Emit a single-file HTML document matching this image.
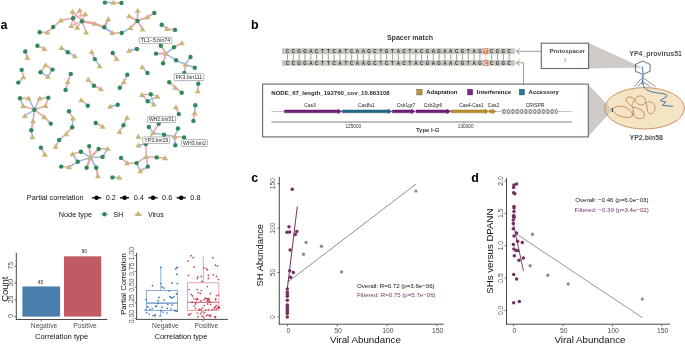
<!DOCTYPE html>
<html><head><meta charset="utf-8"><style>
html,body{margin:0;padding:0;background:#fff;}
svg{display:block;font-family:"Liberation Sans", sans-serif;filter:blur(0.3px);}
</style></head><body>
<svg width="685" height="345" viewBox="0 0 685 345">
<rect width="685" height="345" fill="#fff"/>
<text x="0.4" y="28.8" font-size="12.4" font-weight="bold" fill="#000">a</text>
<text x="251.1" y="28.8" font-size="12.4" font-weight="bold" fill="#000">b</text>
<text x="251.2" y="181.8" font-size="12.4" font-weight="bold" fill="#000">c</text>
<text x="471.2" y="181.8" font-size="12.4" font-weight="bold" fill="#000">d</text>
<g><line x1="39.7" y1="32.3" x2="47.3" y2="32.2" stroke="#e5a7a8" stroke-width="1.55"/>
<line x1="47.3" y1="32.2" x2="53.2" y2="27" stroke="#e5a7a8" stroke-width="1.55"/>
<line x1="53.2" y1="27" x2="60.9" y2="20.3" stroke="#e5a7a8" stroke-width="1.55"/>
<line x1="37.4" y1="45.7" x2="44.3" y2="48.7" stroke="#e5a7a8" stroke-width="1.55"/>
<line x1="25.2" y1="51.5" x2="27.5" y2="57.4" stroke="#e5a7a8" stroke-width="1.55"/>
<line x1="73" y1="18.3" x2="72.5" y2="11.6" stroke="#e5a7a8" stroke-width="1.2"/>
<line x1="82" y1="21.2" x2="72.5" y2="11.6" stroke="#e5a7a8" stroke-width="1.2"/>
<line x1="73" y1="18.3" x2="79.7" y2="10.2" stroke="#e5a7a8" stroke-width="1.2"/>
<line x1="82" y1="21.2" x2="79.7" y2="10.2" stroke="#e5a7a8" stroke-width="1.2"/>
<line x1="73" y1="18.3" x2="85.3" y2="13.9" stroke="#e5a7a8" stroke-width="1.2"/>
<line x1="82" y1="21.2" x2="85.3" y2="13.9" stroke="#e5a7a8" stroke-width="1.2"/>
<line x1="73" y1="18.3" x2="71.2" y2="25.7" stroke="#e5a7a8" stroke-width="1.2"/>
<line x1="82" y1="21.2" x2="71.2" y2="25.7" stroke="#e5a7a8" stroke-width="1.2"/>
<line x1="73" y1="18.3" x2="77.2" y2="27.5" stroke="#e5a7a8" stroke-width="1.2"/>
<line x1="82" y1="21.2" x2="77.2" y2="27.5" stroke="#e5a7a8" stroke-width="1.2"/>
<line x1="60.9" y1="20.3" x2="73" y2="18.3" stroke="#e5a7a8" stroke-width="1.6"/>
<line x1="82" y1="21.2" x2="86.1" y2="32.2" stroke="#e5a7a8" stroke-width="1.55"/>
<line x1="82" y1="21.2" x2="94.6" y2="23.5" stroke="#e5a7a8" stroke-width="2.4"/>
<line x1="94.6" y1="23.5" x2="104.3" y2="27.3" stroke="#e5a7a8" stroke-width="2.4"/>
<line x1="104.3" y1="27.3" x2="108.3" y2="19.1" stroke="#e5a7a8" stroke-width="2.2"/>
<line x1="104.3" y1="27.3" x2="112.2" y2="32.7" stroke="#a3b8de" stroke-width="2"/>
<line x1="112.2" y1="32.7" x2="121.7" y2="33" stroke="#e5a7a8" stroke-width="1.55"/>
<line x1="104.9" y1="2.6" x2="113.4" y2="2.6" stroke="#a3b8de" stroke-width="1.55"/>
<line x1="113.4" y1="2.6" x2="121.4" y2="3" stroke="#e5a7a8" stroke-width="1.55"/>
<line x1="137.4" y1="20.9" x2="137.7" y2="10.4" stroke="#e5a7a8" stroke-width="1.8"/>
<line x1="137.4" y1="20.9" x2="129" y2="16" stroke="#e5a7a8" stroke-width="1.8"/>
<line x1="137.4" y1="20.9" x2="147.5" y2="17" stroke="#e5a7a8" stroke-width="1.8"/>
<line x1="137.4" y1="20.9" x2="130.4" y2="27.8" stroke="#e5a7a8" stroke-width="1.8"/>
<line x1="137.4" y1="20.9" x2="142.6" y2="29.2" stroke="#e5a7a8" stroke-width="1.8"/>
<line x1="147.5" y1="17" x2="154.3" y2="13" stroke="#e5a7a8" stroke-width="1.8"/>
<line x1="121.7" y1="33" x2="130.4" y2="27.8" stroke="#a3b8de" stroke-width="1.55"/>
<line x1="161.7" y1="24.7" x2="167" y2="28.7" stroke="#a3b8de" stroke-width="1.55"/>
<line x1="167" y1="28.7" x2="175" y2="29.9" stroke="#e5a7a8" stroke-width="1.55"/>
<line x1="61.4" y1="47.8" x2="67.8" y2="52.2" stroke="#a3b8de" stroke-width="1.55"/>
<line x1="67.8" y1="52.2" x2="74.8" y2="56" stroke="#a3b8de" stroke-width="1.55"/>
<line x1="91.7" y1="51.7" x2="94.8" y2="59.1" stroke="#e5a7a8" stroke-width="1.55"/>
<line x1="94.8" y1="59.1" x2="99.7" y2="66.1" stroke="#a3b8de" stroke-width="1.55"/>
<line x1="112.7" y1="53" x2="116.5" y2="58.8" stroke="#e5a7a8" stroke-width="1.55"/>
<line x1="129" y1="50.4" x2="136.9" y2="49" stroke="#a3b8de" stroke-width="2"/>
<line x1="166" y1="53.6" x2="160.8" y2="45.7" stroke="#e5a7a8" stroke-width="1.8"/>
<line x1="166" y1="53.6" x2="156" y2="53.6" stroke="#e5a7a8" stroke-width="2"/>
<line x1="166" y1="53.6" x2="163.1" y2="63.2" stroke="#e5a7a8" stroke-width="1.8"/>
<line x1="166" y1="53.6" x2="174" y2="47.2" stroke="#a3b8de" stroke-width="1.6"/>
<line x1="166" y1="53.6" x2="176.1" y2="60.3" stroke="#a3b8de" stroke-width="1.6"/>
<line x1="174" y1="47.2" x2="181.9" y2="42.9" stroke="#e5a7a8" stroke-width="1.55"/>
<line x1="176.1" y1="60.3" x2="185.5" y2="64.5" stroke="#a3b8de" stroke-width="1.8"/>
<line x1="185.5" y1="64.5" x2="190.5" y2="57" stroke="#a3b8de" stroke-width="1.55"/>
<line x1="185.5" y1="64.5" x2="184.3" y2="73" stroke="#e5a7a8" stroke-width="1.55"/>
<line x1="185.5" y1="64.5" x2="194.8" y2="67.8" stroke="#a3b8de" stroke-width="1.55"/>
<line x1="21.7" y1="69.9" x2="23.5" y2="76.9" stroke="#e5a7a8" stroke-width="1.55"/>
<line x1="23.5" y1="76.9" x2="18.3" y2="82.6" stroke="#a3b8de" stroke-width="1.55"/>
<line x1="45.6" y1="64.9" x2="40.5" y2="72.2" stroke="#e5a7a8" stroke-width="1.55"/>
<line x1="45.6" y1="64.9" x2="52.5" y2="69.6" stroke="#e5a7a8" stroke-width="1.55"/>
<line x1="40.5" y1="72.2" x2="47.8" y2="76.5" stroke="#a3b8de" stroke-width="1.55"/>
<line x1="52.5" y1="69.6" x2="47.8" y2="76.5" stroke="#a3b8de" stroke-width="1.55"/>
<line x1="34.4" y1="109.8" x2="28.7" y2="98.3" stroke="#a3b8de" stroke-width="1.55"/>
<line x1="28.7" y1="98.3" x2="20" y2="98.3" stroke="#e5a7a8" stroke-width="1.55"/>
<line x1="20" y1="98.3" x2="23.1" y2="106" stroke="#a3b8de" stroke-width="1.55"/>
<line x1="23.1" y1="106" x2="34.4" y2="109.8" stroke="#e5a7a8" stroke-width="1.55"/>
<line x1="34.4" y1="109.8" x2="39.7" y2="98.3" stroke="#e5a7a8" stroke-width="1.55"/>
<line x1="39.7" y1="98.3" x2="48.3" y2="97.8" stroke="#e5a7a8" stroke-width="1.55"/>
<line x1="48.3" y1="97.8" x2="45.6" y2="105.7" stroke="#e5a7a8" stroke-width="1.55"/>
<line x1="45.6" y1="105.7" x2="34.4" y2="109.8" stroke="#e5a7a8" stroke-width="1.55"/>
<line x1="34.4" y1="109.8" x2="24.9" y2="115.7" stroke="#a3b8de" stroke-width="1.55"/>
<line x1="34.4" y1="109.8" x2="44.3" y2="117" stroke="#e5a7a8" stroke-width="1.55"/>
<line x1="44.3" y1="117" x2="50.8" y2="123.6" stroke="#e5a7a8" stroke-width="1.55"/>
<line x1="34.4" y1="109.8" x2="33" y2="121" stroke="#a3b8de" stroke-width="1.55"/>
<line x1="33" y1="121" x2="31.3" y2="130.2" stroke="#e5a7a8" stroke-width="2"/>
<line x1="31.3" y1="130.2" x2="32.5" y2="137" stroke="#a3b8de" stroke-width="1.55"/>
<line x1="70.8" y1="73.9" x2="67.8" y2="81.7" stroke="#e5a7a8" stroke-width="1.55"/>
<line x1="67.8" y1="81.7" x2="65.6" y2="89.9" stroke="#e5a7a8" stroke-width="1.55"/>
<line x1="88.2" y1="79.5" x2="93.9" y2="85.7" stroke="#e5a7a8" stroke-width="1.55"/>
<line x1="93.9" y1="85.7" x2="100.9" y2="89" stroke="#e5a7a8" stroke-width="1.55"/>
<line x1="81.2" y1="100" x2="87.8" y2="105.7" stroke="#e5a7a8" stroke-width="1.55"/>
<line x1="119.8" y1="87.8" x2="123.8" y2="81.7" stroke="#e5a7a8" stroke-width="1.55"/>
<line x1="123.8" y1="81.7" x2="127.3" y2="74.8" stroke="#e5a7a8" stroke-width="1.55"/>
<line x1="117.7" y1="104.7" x2="110.1" y2="106.6" stroke="#a3b8de" stroke-width="2"/>
<line x1="69" y1="111.3" x2="73" y2="118.3" stroke="#e5a7a8" stroke-width="1.55"/>
<line x1="73" y1="118.3" x2="72.2" y2="127.3" stroke="#a3b8de" stroke-width="1.55"/>
<line x1="72.2" y1="127.3" x2="66.1" y2="133.9" stroke="#e5a7a8" stroke-width="1.55"/>
<line x1="66.1" y1="133.9" x2="59.2" y2="140" stroke="#e5a7a8" stroke-width="1.55"/>
<line x1="59.2" y1="140" x2="55.7" y2="146.4" stroke="#e5a7a8" stroke-width="1.55"/>
<line x1="40.9" y1="147.8" x2="44.9" y2="154.4" stroke="#e5a7a8" stroke-width="1.55"/>
<line x1="95.7" y1="123" x2="102.6" y2="126.6" stroke="#e5a7a8" stroke-width="1.55"/>
<line x1="127" y1="117.4" x2="123.5" y2="125.2" stroke="#e5a7a8" stroke-width="1.55"/>
<line x1="123.5" y1="125.2" x2="119.5" y2="131.8" stroke="#e5a7a8" stroke-width="1.55"/>
<line x1="90.4" y1="157.4" x2="89.2" y2="146.1" stroke="#e5a7a8" stroke-width="1.8"/>
<line x1="90.4" y1="157.4" x2="80.9" y2="151.7" stroke="#a3b8de" stroke-width="1.55"/>
<line x1="90.4" y1="157.4" x2="98.6" y2="149" stroke="#e5a7a8" stroke-width="2.2"/>
<line x1="90.4" y1="157.4" x2="102.6" y2="156.9" stroke="#a3b8de" stroke-width="1.55"/>
<line x1="90.4" y1="157.4" x2="77.7" y2="161.7" stroke="#a3b8de" stroke-width="1.55"/>
<line x1="90.4" y1="157.4" x2="86.6" y2="167.8" stroke="#e5a7a8" stroke-width="2.2"/>
<line x1="90.4" y1="157.4" x2="96.2" y2="167.8" stroke="#a3b8de" stroke-width="1.8"/>
<line x1="80.9" y1="151.7" x2="72.5" y2="153.9" stroke="#e5a7a8" stroke-width="1.55"/>
<line x1="72.5" y1="153.9" x2="77.7" y2="161.7" stroke="#a3b8de" stroke-width="1.55"/>
<line x1="98.6" y1="149" x2="107.8" y2="148.7" stroke="#e5a7a8" stroke-width="1.55"/>
<line x1="107.8" y1="148.7" x2="102.6" y2="156.9" stroke="#a3b8de" stroke-width="1.55"/>
<line x1="77.7" y1="161.7" x2="69" y2="167" stroke="#a3b8de" stroke-width="1.55"/>
<line x1="69" y1="167" x2="61.2" y2="166.6" stroke="#e5a7a8" stroke-width="1.55"/>
<line x1="96.2" y1="167.8" x2="97.9" y2="176" stroke="#e5a7a8" stroke-width="2"/>
<line x1="112.4" y1="177.4" x2="119.4" y2="177.4" stroke="#a3b8de" stroke-width="1.55"/>
<line x1="146.2" y1="156.7" x2="145.9" y2="144" stroke="#e5a7a8" stroke-width="1.55"/>
<line x1="146.2" y1="156.7" x2="156.8" y2="157.4" stroke="#e5a7a8" stroke-width="1.55"/>
<line x1="146.2" y1="156.7" x2="136.6" y2="163.1" stroke="#e5a7a8" stroke-width="1.55"/>
<line x1="146.2" y1="156.7" x2="147.9" y2="166.6" stroke="#e5a7a8" stroke-width="1.55"/>
<line x1="156.8" y1="157.4" x2="165.1" y2="157.9" stroke="#e5a7a8" stroke-width="1.55"/>
<line x1="136.6" y1="163.1" x2="127.1" y2="163.1" stroke="#e5a7a8" stroke-width="1.55"/>
<line x1="127.1" y1="163.1" x2="121" y2="157.9" stroke="#e5a7a8" stroke-width="1.55"/>
<line x1="136.6" y1="163.1" x2="140.2" y2="171" stroke="#a3b8de" stroke-width="1.55"/>
<line x1="147.9" y1="166.6" x2="140.2" y2="171" stroke="#e5a7a8" stroke-width="2"/>
<line x1="138.5" y1="145.3" x2="145.9" y2="144" stroke="#a3b8de" stroke-width="1.55"/>
<line x1="153.1" y1="132.8" x2="158.7" y2="123.8" stroke="#e5a7a8" stroke-width="1.55"/>
<line x1="153.1" y1="132.8" x2="148.8" y2="126.9" stroke="#a3b8de" stroke-width="1.55"/>
<line x1="153.1" y1="132.8" x2="164" y2="134.8" stroke="#a3b8de" stroke-width="1.55"/>
<line x1="153.1" y1="132.8" x2="145.9" y2="144" stroke="#e5a7a8" stroke-width="1.55"/>
<line x1="164" y1="134.8" x2="174.7" y2="136.6" stroke="#a3b8de" stroke-width="1.55"/>
<line x1="174.7" y1="136.6" x2="178" y2="128.5" stroke="#a3b8de" stroke-width="1.55"/>
<line x1="174.7" y1="136.6" x2="184.1" y2="137.4" stroke="#e5a7a8" stroke-width="1.55"/>
<line x1="174.7" y1="136.6" x2="175.3" y2="145.3" stroke="#a3b8de" stroke-width="1.55"/>
<line x1="178.8" y1="114.1" x2="176" y2="107" stroke="#e5a7a8" stroke-width="1.55"/>
<line x1="195.3" y1="105.2" x2="194.6" y2="112.9" stroke="#a3b8de" stroke-width="1.55"/>
<line x1="194.6" y1="112.9" x2="193.4" y2="120.9" stroke="#e5a7a8" stroke-width="1.55"/>
<line x1="198.3" y1="83.8" x2="197.7" y2="91" stroke="#e5a7a8" stroke-width="1.55"/>
<line x1="169.2" y1="82.3" x2="175.3" y2="87.5" stroke="#e5a7a8" stroke-width="1.55"/>
<line x1="175.3" y1="87.5" x2="181.7" y2="92.7" stroke="#e5a7a8" stroke-width="1.55"/>
<line x1="142.3" y1="67" x2="147.5" y2="73" stroke="#a3b8de" stroke-width="1.55"/>
<line x1="141.9" y1="94.8" x2="150.8" y2="94.3" stroke="#e5a7a8" stroke-width="1.55"/>
<line x1="141.9" y1="94.8" x2="147.7" y2="101.3" stroke="#e5a7a8" stroke-width="1.55"/>
<line x1="150.8" y1="94.3" x2="157.5" y2="96.4" stroke="#a3b8de" stroke-width="1.2"/>
<line x1="150.8" y1="94.3" x2="153.8" y2="104.2" stroke="#a3b8de" stroke-width="1.2"/>
<line x1="147.7" y1="101.3" x2="157.5" y2="96.4" stroke="#a3b8de" stroke-width="1.2"/>
<line x1="147.7" y1="101.3" x2="153.8" y2="104.2" stroke="#a3b8de" stroke-width="1.2"/>
<circle cx="39.7" cy="32.3" r="2.2" fill="#2f8a5a"/>
<polygon points="44.30,34.45 50.30,34.45 47.30,29.45" fill="#c9b577"/>
<circle cx="53.2" cy="27" r="2.2" fill="#2f8a5a"/>
<polygon points="57.90,22.55 63.90,22.55 60.90,17.55" fill="#c9b577"/>
<circle cx="37.4" cy="45.7" r="2.2" fill="#2f8a5a"/>
<polygon points="41.30,50.95 47.30,50.95 44.30,45.95" fill="#c9b577"/>
<circle cx="25.2" cy="51.5" r="2.2" fill="#2f8a5a"/>
<polygon points="24.50,59.65 30.50,59.65 27.50,54.65" fill="#c9b577"/>
<circle cx="73" cy="18.3" r="2.2" fill="#2f8a5a"/>
<circle cx="82" cy="21.2" r="2.2" fill="#2f8a5a"/>
<polygon points="69.50,13.85 75.50,13.85 72.50,8.85" fill="#c9b577"/>
<polygon points="76.70,12.45 82.70,12.45 79.70,7.45" fill="#c9b577"/>
<polygon points="82.30,16.15 88.30,16.15 85.30,11.15" fill="#c9b577"/>
<polygon points="68.20,27.95 74.20,27.95 71.20,22.95" fill="#c9b577"/>
<polygon points="74.20,29.75 80.20,29.75 77.20,24.75" fill="#c9b577"/>
<polygon points="83.10,34.45 89.10,34.45 86.10,29.45" fill="#c9b577"/>
<polygon points="91.60,25.75 97.60,25.75 94.60,20.75" fill="#c9b577"/>
<circle cx="104.3" cy="27.3" r="2.2" fill="#2f8a5a"/>
<polygon points="105.30,21.35 111.30,21.35 108.30,16.35" fill="#c9b577"/>
<polygon points="109.20,34.95 115.20,34.95 112.20,29.95" fill="#c9b577"/>
<circle cx="121.7" cy="33" r="2.2" fill="#2f8a5a"/>
<circle cx="104.9" cy="2.6" r="2.2" fill="#2f8a5a"/>
<polygon points="110.40,4.85 116.40,4.85 113.40,-0.15" fill="#c9b577"/>
<circle cx="121.4" cy="3" r="2.2" fill="#2f8a5a"/>
<circle cx="137.4" cy="20.9" r="2.2" fill="#2f8a5a"/>
<polygon points="134.70,12.65 140.70,12.65 137.70,7.65" fill="#c9b577"/>
<polygon points="126.00,18.25 132.00,18.25 129.00,13.25" fill="#c9b577"/>
<polygon points="144.50,19.25 150.50,19.25 147.50,14.25" fill="#c9b577"/>
<polygon points="127.40,30.05 133.40,30.05 130.40,25.05" fill="#c9b577"/>
<polygon points="139.60,31.45 145.60,31.45 142.60,26.45" fill="#c9b577"/>
<circle cx="154.3" cy="13" r="2.2" fill="#2f8a5a"/>
<circle cx="161.7" cy="24.7" r="2.2" fill="#2f8a5a"/>
<polygon points="164.00,30.95 170.00,30.95 167.00,25.95" fill="#c9b577"/>
<circle cx="175" cy="29.9" r="2.2" fill="#2f8a5a"/>
<polygon points="58.40,50.05 64.40,50.05 61.40,45.05" fill="#c9b577"/>
<circle cx="67.8" cy="52.2" r="2.2" fill="#2f8a5a"/>
<polygon points="71.80,58.25 77.80,58.25 74.80,53.25" fill="#c9b577"/>
<polygon points="88.70,53.95 94.70,53.95 91.70,48.95" fill="#c9b577"/>
<circle cx="94.8" cy="59.1" r="2.2" fill="#2f8a5a"/>
<polygon points="96.70,68.35 102.70,68.35 99.70,63.35" fill="#c9b577"/>
<circle cx="112.7" cy="53" r="2.2" fill="#2f8a5a"/>
<polygon points="113.50,61.05 119.50,61.05 116.50,56.05" fill="#c9b577"/>
<polygon points="126.00,52.65 132.00,52.65 129.00,47.65" fill="#c9b577"/>
<circle cx="136.9" cy="49" r="2.2" fill="#2f8a5a"/>
<polygon points="163.00,55.85 169.00,55.85 166.00,50.85" fill="#c9b577"/>
<circle cx="160.8" cy="45.7" r="2.2" fill="#2f8a5a"/>
<circle cx="156" cy="53.6" r="2.2" fill="#2f8a5a"/>
<circle cx="163.1" cy="63.2" r="2.2" fill="#2f8a5a"/>
<circle cx="174" cy="47.2" r="2.2" fill="#2f8a5a"/>
<circle cx="176.1" cy="60.3" r="2.2" fill="#2f8a5a"/>
<polygon points="178.90,45.15 184.90,45.15 181.90,40.15" fill="#c9b577"/>
<polygon points="182.50,66.75 188.50,66.75 185.50,61.75" fill="#c9b577"/>
<circle cx="190.5" cy="57" r="2.2" fill="#2f8a5a"/>
<circle cx="184.3" cy="73" r="2.2" fill="#2f8a5a"/>
<circle cx="194.8" cy="67.8" r="2.2" fill="#2f8a5a"/>
<circle cx="21.7" cy="69.9" r="2.2" fill="#2f8a5a"/>
<polygon points="20.50,79.15 26.50,79.15 23.50,74.15" fill="#c9b577"/>
<circle cx="18.3" cy="82.6" r="2.2" fill="#2f8a5a"/>
<polygon points="42.60,67.15 48.60,67.15 45.60,62.15" fill="#c9b577"/>
<circle cx="40.5" cy="72.2" r="2.2" fill="#2f8a5a"/>
<circle cx="52.5" cy="69.6" r="2.2" fill="#2f8a5a"/>
<polygon points="44.80,78.75 50.80,78.75 47.80,73.75" fill="#c9b577"/>
<circle cx="34.4" cy="109.8" r="2.2" fill="#2f8a5a"/>
<circle cx="20" cy="98.3" r="2.2" fill="#2f8a5a"/>
<polygon points="25.70,100.55 31.70,100.55 28.70,95.55" fill="#c9b577"/>
<polygon points="36.70,100.55 42.70,100.55 39.70,95.55" fill="#c9b577"/>
<circle cx="48.3" cy="97.8" r="2.2" fill="#2f8a5a"/>
<polygon points="20.10,108.25 26.10,108.25 23.10,103.25" fill="#c9b577"/>
<polygon points="42.60,107.95 48.60,107.95 45.60,102.95" fill="#c9b577"/>
<polygon points="21.90,117.95 27.90,117.95 24.90,112.95" fill="#c9b577"/>
<polygon points="41.30,119.25 47.30,119.25 44.30,114.25" fill="#c9b577"/>
<polygon points="30.00,123.25 36.00,123.25 33.00,118.25" fill="#c9b577"/>
<circle cx="50.8" cy="123.6" r="2.2" fill="#2f8a5a"/>
<circle cx="31.3" cy="130.2" r="2.2" fill="#2f8a5a"/>
<polygon points="29.50,139.25 35.50,139.25 32.50,134.25" fill="#c9b577"/>
<circle cx="70.8" cy="73.9" r="2.2" fill="#2f8a5a"/>
<polygon points="64.80,83.95 70.80,83.95 67.80,78.95" fill="#c9b577"/>
<circle cx="65.6" cy="89.9" r="2.2" fill="#2f8a5a"/>
<polygon points="85.20,81.75 91.20,81.75 88.20,76.75" fill="#c9b577"/>
<circle cx="93.9" cy="85.7" r="2.2" fill="#2f8a5a"/>
<polygon points="97.90,91.25 103.90,91.25 100.90,86.25" fill="#c9b577"/>
<polygon points="78.20,102.25 84.20,102.25 81.20,97.25" fill="#c9b577"/>
<circle cx="87.8" cy="105.7" r="2.2" fill="#2f8a5a"/>
<circle cx="119.8" cy="87.8" r="2.2" fill="#2f8a5a"/>
<polygon points="120.80,83.95 126.80,83.95 123.80,78.95" fill="#c9b577"/>
<circle cx="127.3" cy="74.8" r="2.2" fill="#2f8a5a"/>
<circle cx="117.7" cy="104.7" r="2.2" fill="#2f8a5a"/>
<polygon points="107.10,108.85 113.10,108.85 110.10,103.85" fill="#c9b577"/>
<circle cx="69" cy="111.3" r="2.2" fill="#2f8a5a"/>
<polygon points="70.00,120.55 76.00,120.55 73.00,115.55" fill="#c9b577"/>
<circle cx="72.2" cy="127.3" r="2.2" fill="#2f8a5a"/>
<polygon points="63.10,136.15 69.10,136.15 66.10,131.15" fill="#c9b577"/>
<circle cx="59.2" cy="140" r="2.2" fill="#2f8a5a"/>
<polygon points="52.70,148.65 58.70,148.65 55.70,143.65" fill="#c9b577"/>
<circle cx="40.9" cy="147.8" r="2.2" fill="#2f8a5a"/>
<polygon points="41.90,156.65 47.90,156.65 44.90,151.65" fill="#c9b577"/>
<circle cx="95.7" cy="123" r="2.2" fill="#2f8a5a"/>
<polygon points="99.60,128.85 105.60,128.85 102.60,123.85" fill="#c9b577"/>
<polygon points="124.00,119.65 130.00,119.65 127.00,114.65" fill="#c9b577"/>
<circle cx="123.5" cy="125.2" r="2.2" fill="#2f8a5a"/>
<polygon points="116.50,134.05 122.50,134.05 119.50,129.05" fill="#c9b577"/>
<polygon points="87.40,159.65 93.40,159.65 90.40,154.65" fill="#c9b577"/>
<circle cx="89.2" cy="146.1" r="2.2" fill="#2f8a5a"/>
<circle cx="80.9" cy="151.7" r="2.2" fill="#2f8a5a"/>
<circle cx="98.6" cy="149" r="2.2" fill="#2f8a5a"/>
<circle cx="102.6" cy="156.9" r="2.2" fill="#2f8a5a"/>
<circle cx="77.7" cy="161.7" r="2.2" fill="#2f8a5a"/>
<circle cx="86.6" cy="167.8" r="2.2" fill="#2f8a5a"/>
<circle cx="96.2" cy="167.8" r="2.2" fill="#2f8a5a"/>
<polygon points="69.50,156.15 75.50,156.15 72.50,151.15" fill="#c9b577"/>
<polygon points="104.80,150.95 110.80,150.95 107.80,145.95" fill="#c9b577"/>
<polygon points="66.00,169.25 72.00,169.25 69.00,164.25" fill="#c9b577"/>
<circle cx="61.2" cy="166.6" r="2.2" fill="#2f8a5a"/>
<polygon points="94.90,178.25 100.90,178.25 97.90,173.25" fill="#c9b577"/>
<circle cx="112.4" cy="177.4" r="2.2" fill="#2f8a5a"/>
<polygon points="116.40,179.65 122.40,179.65 119.40,174.65" fill="#c9b577"/>
<polygon points="143.20,158.95 149.20,158.95 146.20,153.95" fill="#c9b577"/>
<circle cx="145.9" cy="144" r="2.2" fill="#2f8a5a"/>
<circle cx="156.8" cy="157.4" r="2.2" fill="#2f8a5a"/>
<circle cx="136.6" cy="163.1" r="2.2" fill="#2f8a5a"/>
<circle cx="147.9" cy="166.6" r="2.2" fill="#2f8a5a"/>
<polygon points="162.10,160.15 168.10,160.15 165.10,155.15" fill="#c9b577"/>
<polygon points="124.10,165.35 130.10,165.35 127.10,160.35" fill="#c9b577"/>
<circle cx="121" cy="157.9" r="2.2" fill="#2f8a5a"/>
<polygon points="137.20,173.25 143.20,173.25 140.20,168.25" fill="#c9b577"/>
<polygon points="135.50,147.55 141.50,147.55 138.50,142.55" fill="#c9b577"/>
<polygon points="135.30,138.85 141.30,138.85 138.30,133.85" fill="#c9b577"/>
<polygon points="150.10,135.05 156.10,135.05 153.10,130.05" fill="#c9b577"/>
<circle cx="158.7" cy="123.8" r="2.2" fill="#2f8a5a"/>
<circle cx="148.8" cy="126.9" r="2.2" fill="#2f8a5a"/>
<circle cx="164" cy="134.8" r="2.2" fill="#2f8a5a"/>
<polygon points="171.70,138.85 177.70,138.85 174.70,133.85" fill="#c9b577"/>
<circle cx="178" cy="128.5" r="2.2" fill="#2f8a5a"/>
<circle cx="184.1" cy="137.4" r="2.2" fill="#2f8a5a"/>
<circle cx="175.3" cy="145.3" r="2.2" fill="#2f8a5a"/>
<circle cx="178.8" cy="114.1" r="2.2" fill="#2f8a5a"/>
<polygon points="173.00,109.25 179.00,109.25 176.00,104.25" fill="#c9b577"/>
<circle cx="195.3" cy="105.2" r="2.2" fill="#2f8a5a"/>
<polygon points="191.60,115.15 197.60,115.15 194.60,110.15" fill="#c9b577"/>
<circle cx="193.4" cy="120.9" r="2.2" fill="#2f8a5a"/>
<circle cx="198.3" cy="83.8" r="2.2" fill="#2f8a5a"/>
<polygon points="194.70,93.25 200.70,93.25 197.70,88.25" fill="#c9b577"/>
<circle cx="169.2" cy="82.3" r="2.2" fill="#2f8a5a"/>
<polygon points="172.30,89.75 178.30,89.75 175.30,84.75" fill="#c9b577"/>
<circle cx="181.7" cy="92.7" r="2.2" fill="#2f8a5a"/>
<polygon points="139.30,69.25 145.30,69.25 142.30,64.25" fill="#c9b577"/>
<circle cx="147.5" cy="73" r="2.2" fill="#2f8a5a"/>
<polygon points="138.90,97.05 144.90,97.05 141.90,92.05" fill="#c9b577"/>
<circle cx="150.8" cy="94.3" r="2.2" fill="#2f8a5a"/>
<polygon points="154.50,98.65 160.50,98.65 157.50,93.65" fill="#c9b577"/>
<circle cx="147.7" cy="101.3" r="2.2" fill="#2f8a5a"/>
<polygon points="150.80,106.45 156.80,106.45 153.80,101.45" fill="#c9b577"/>
<rect x="139.2" y="37.3" width="32.60" height="6.10" rx="0.9" fill="#fff" stroke="#8c8c8c" stroke-width="0.65"/>
<text x="140.80" y="42.35" font-size="5.7" textLength="29.40" lengthAdjust="spacingAndGlyphs" fill="#252525">TL1−5.bin74</text>
<rect x="174.2" y="73.7" width="29.70" height="6.90" rx="0.9" fill="#fff" stroke="#8c8c8c" stroke-width="0.65"/>
<text x="175.80" y="79.15" font-size="5.7" textLength="26.50" lengthAdjust="spacingAndGlyphs" fill="#252525">FK3.bin111</text>
<rect x="147.3" y="116.3" width="28.30" height="6.30" rx="0.9" fill="#fff" stroke="#8c8c8c" stroke-width="0.65"/>
<text x="148.90" y="121.45" font-size="5.7" textLength="25.10" lengthAdjust="spacingAndGlyphs" fill="#252525">WH2.bin31</text>
<rect x="142.7" y="136.9" width="27.10" height="6.50" rx="0.9" fill="#fff" stroke="#8c8c8c" stroke-width="0.65"/>
<text x="144.30" y="142.15" font-size="5.7" textLength="23.90" lengthAdjust="spacingAndGlyphs" fill="#252525">YP3.bin19</text>
<rect x="181.4" y="139.6" width="26.00" height="6.80" rx="0.9" fill="#fff" stroke="#8c8c8c" stroke-width="0.65"/>
<text x="183.00" y="145.00" font-size="5.7" textLength="22.80" lengthAdjust="spacingAndGlyphs" fill="#252525">WH3.bin2</text></g>
<g><text x="26.8" y="200.4" font-size="7.3" fill="#111">Partial correlation</text>
<line x1="92.0" y1="197.8" x2="101.19999999999999" y2="197.8" stroke="#000" stroke-width="1.3"/>
<circle cx="96.6" cy="197.8" r="2.3" fill="#000"/>
<text x="105.69999999999999" y="200.4" font-size="7.3" fill="#111">0.2</text>
<line x1="120.0" y1="197.8" x2="129.2" y2="197.8" stroke="#000" stroke-width="1.3"/>
<circle cx="124.6" cy="197.8" r="2.3" fill="#000"/>
<text x="133.7" y="200.4" font-size="7.3" fill="#111">0.4</text>
<line x1="148.4" y1="197.8" x2="157.6" y2="197.8" stroke="#000" stroke-width="1.3"/>
<circle cx="153.0" cy="197.8" r="2.3" fill="#000"/>
<text x="162.1" y="200.4" font-size="7.3" fill="#111">0.6</text>
<line x1="176.6" y1="197.8" x2="185.79999999999998" y2="197.8" stroke="#000" stroke-width="1.3"/>
<circle cx="181.2" cy="197.8" r="2.3" fill="#000"/>
<text x="190.29999999999998" y="200.4" font-size="7.3" fill="#111">0.8</text>
<text x="58.8" y="216.7" font-size="7.3" fill="#111">Node type</text>
<line x1="99.8" y1="214.2" x2="109.2" y2="214.2" stroke="#bbb" stroke-width="0.8"/>
<circle cx="104.5" cy="214.2" r="2.2" fill="#2f8a5a"/>
<text x="113.6" y="216.6" font-size="7.0" fill="#111">SH</text>
<line x1="133.5" y1="214.2" x2="142.9" y2="214.2" stroke="#ccc" stroke-width="0.8"/>
<polygon points="134.6,216.1 141.8,216.1 138.2,211.0" fill="#c9b577"/>
<text x="147.9" y="216.6" font-size="7.0" fill="#111">Virus</text></g>
<g><rect x="22.4" y="286.45" width="37.7" height="30.15" fill="#4a7dab"/>
<rect x="64" y="256.30" width="37.2" height="60.30" fill="#c05b64"/>
<line x1="16.3" y1="252.8" x2="16.3" y2="319.6" stroke="#333" stroke-width="0.9"/>
<line x1="15.9" y1="319.5" x2="107.2" y2="319.5" stroke="#333" stroke-width="0.9"/>
<line x1="14.4" y1="316.60" x2="16.3" y2="316.60" stroke="#333" stroke-width="0.7"/>
<text transform="translate(13.3,316.00) rotate(-90)" font-size="6.6" text-anchor="middle" fill="#4d4d4d">0</text>
<line x1="14.4" y1="299.85" x2="16.3" y2="299.85" stroke="#333" stroke-width="0.7"/>
<text transform="translate(13.3,299.25) rotate(-90)" font-size="6.6" text-anchor="middle" fill="#4d4d4d">25</text>
<line x1="14.4" y1="283.10" x2="16.3" y2="283.10" stroke="#333" stroke-width="0.7"/>
<text transform="translate(13.3,282.50) rotate(-90)" font-size="6.6" text-anchor="middle" fill="#4d4d4d">50</text>
<line x1="14.4" y1="266.35" x2="16.3" y2="266.35" stroke="#333" stroke-width="0.7"/>
<text transform="translate(13.3,265.75) rotate(-90)" font-size="6.6" text-anchor="middle" fill="#4d4d4d">75</text>
<line x1="41.2" y1="319.6" x2="41.2" y2="321.4" stroke="#333" stroke-width="0.7"/>
<line x1="82.6" y1="319.6" x2="82.6" y2="321.4" stroke="#333" stroke-width="0.7"/>
<text x="40.6" y="41.3" font-size="5" text-anchor="middle" fill="#222" transform="translate(0,242.5)">45</text>
<text x="84.2" y="10.6" font-size="5" text-anchor="middle" fill="#222" transform="translate(0,242.5)">90</text>
<text x="44" y="327.8" font-size="6.7" text-anchor="middle" fill="#4d4d4d">Negative</text>
<text x="85" y="327.8" font-size="6.7" text-anchor="middle" fill="#4d4d4d">Positive</text>
<text x="61.6" y="339.4" font-size="7.5" text-anchor="middle" fill="#111">Correlation type</text>
<text transform="translate(7.9,289.2) rotate(-90)" font-size="9.5" text-anchor="middle" fill="#111">Count</text></g>
<g><line x1="136.6" y1="252.8" x2="136.6" y2="319.8" stroke="#333" stroke-width="0.9"/>
<line x1="136.2" y1="319.4" x2="228" y2="319.4" stroke="#333" stroke-width="0.9"/>
<line x1="134.8" y1="318.60" x2="136.6" y2="318.60" stroke="#333" stroke-width="0.7"/>
<text transform="translate(133.6,316.60) rotate(-90)" font-size="6.9" text-anchor="middle" fill="#4d4d4d">0.00</text>
<line x1="134.8" y1="302.85" x2="136.6" y2="302.85" stroke="#333" stroke-width="0.7"/>
<text transform="translate(133.6,300.85) rotate(-90)" font-size="6.9" text-anchor="middle" fill="#4d4d4d">0.25</text>
<line x1="134.8" y1="287.10" x2="136.6" y2="287.10" stroke="#333" stroke-width="0.7"/>
<text transform="translate(133.6,285.10) rotate(-90)" font-size="6.9" text-anchor="middle" fill="#4d4d4d">0.50</text>
<line x1="134.8" y1="271.35" x2="136.6" y2="271.35" stroke="#333" stroke-width="0.7"/>
<text transform="translate(133.6,269.35) rotate(-90)" font-size="6.9" text-anchor="middle" fill="#4d4d4d">0.75</text>
<line x1="134.8" y1="255.60" x2="136.6" y2="255.60" stroke="#333" stroke-width="0.7"/>
<text transform="translate(133.6,253.60) rotate(-90)" font-size="6.9" text-anchor="middle" fill="#4d4d4d">1.00</text>
<line x1="161.4" y1="319.8" x2="161.4" y2="321.6" stroke="#333" stroke-width="0.7"/>
<line x1="203" y1="319.8" x2="203" y2="321.6" stroke="#333" stroke-width="0.7"/>
<text x="165.4" y="327.7" font-size="6.8" text-anchor="middle" fill="#4d4d4d">Negative</text>
<text x="206.4" y="327.7" font-size="6.8" text-anchor="middle" fill="#4d4d4d">Positive</text>
<text x="181" y="339.0" font-size="7.5" text-anchor="middle" fill="#111">Correlation type</text>
<text transform="translate(125.9,284) rotate(-90)" font-size="7.7" text-anchor="middle" fill="#111">Partial Correlation</text>
<rect x="146.4" y="290.4" width="31" height="20" fill="none" stroke="#5a8cc0" stroke-width="0.7"/>
<line x1="146.4" y1="303.1" x2="177.4" y2="303.1" stroke="#4a80b8" stroke-width="1.1"/>
<line x1="160.8" y1="267.3" x2="160.8" y2="290.4" stroke="#5a8cc0" stroke-width="0.7"/>
<line x1="160.8" y1="310.4" x2="160.8" y2="316.5" stroke="#5a8cc0" stroke-width="0.7"/>
<circle cx="160.8" cy="267.3" r="0.85" fill="#3a72ad"/>
<circle cx="176.5" cy="267.8" r="0.85" fill="#3a72ad"/>
<circle cx="175.6" cy="269" r="0.85" fill="#3a72ad"/>
<circle cx="177.4" cy="267.3" r="0.85" fill="#3a72ad"/>
<circle cx="176.8" cy="274.2" r="0.85" fill="#3a72ad"/>
<circle cx="152.5" cy="285.7" r="0.85" fill="#3a72ad"/>
<circle cx="160.8" cy="283.5" r="0.85" fill="#3a72ad"/>
<circle cx="172.1" cy="282.9" r="0.85" fill="#3a72ad"/>
<circle cx="177.4" cy="283.5" r="0.85" fill="#3a72ad"/>
<circle cx="162.1" cy="286.9" r="0.85" fill="#3a72ad"/>
<circle cx="164" cy="288.1" r="0.85" fill="#3a72ad"/>
<circle cx="169.2" cy="290.9" r="0.85" fill="#3a72ad"/>
<circle cx="176.5" cy="293.9" r="0.85" fill="#3a72ad"/>
<circle cx="169.9" cy="296.5" r="0.85" fill="#3a72ad"/>
<circle cx="172.1" cy="297.9" r="0.85" fill="#3a72ad"/>
<circle cx="173.9" cy="296.8" r="0.85" fill="#3a72ad"/>
<circle cx="170.9" cy="297.4" r="0.85" fill="#3a72ad"/>
<circle cx="159.1" cy="297.4" r="0.85" fill="#3a72ad"/>
<circle cx="146.1" cy="299.6" r="0.85" fill="#3a72ad"/>
<circle cx="164.3" cy="300" r="0.85" fill="#3a72ad"/>
<circle cx="158.2" cy="300.8" r="0.85" fill="#3a72ad"/>
<circle cx="147.8" cy="306.9" r="0.85" fill="#3a72ad"/>
<circle cx="155.6" cy="306.6" r="0.85" fill="#3a72ad"/>
<circle cx="156.5" cy="306" r="0.85" fill="#3a72ad"/>
<circle cx="162.2" cy="307.3" r="0.85" fill="#3a72ad"/>
<circle cx="167.8" cy="304.3" r="0.85" fill="#3a72ad"/>
<circle cx="167.3" cy="308.3" r="0.85" fill="#3a72ad"/>
<circle cx="152.2" cy="308.6" r="0.85" fill="#3a72ad"/>
<circle cx="145.2" cy="310" r="0.85" fill="#3a72ad"/>
<circle cx="146.6" cy="312.5" r="0.85" fill="#3a72ad"/>
<circle cx="160.8" cy="310.4" r="0.85" fill="#3a72ad"/>
<circle cx="174.7" cy="310.4" r="0.85" fill="#3a72ad"/>
<circle cx="176.1" cy="311.4" r="0.85" fill="#3a72ad"/>
<circle cx="177" cy="310.9" r="0.85" fill="#3a72ad"/>
<circle cx="153" cy="315.6" r="0.85" fill="#3a72ad"/>
<circle cx="154.8" cy="316" r="0.85" fill="#3a72ad"/>
<circle cx="155.3" cy="314.9" r="0.85" fill="#3a72ad"/>
<circle cx="160" cy="316" r="0.85" fill="#3a72ad"/>
<circle cx="166.9" cy="313" r="0.85" fill="#3a72ad"/>
<circle cx="150" cy="309.5" r="0.85" fill="#3a72ad"/>
<circle cx="171" cy="309" r="0.85" fill="#3a72ad"/>
<circle cx="149" cy="314" r="0.85" fill="#3a72ad"/>
<circle cx="163" cy="312" r="0.85" fill="#3a72ad"/>
<circle cx="158" cy="303.5" r="0.85" fill="#3a72ad"/>
<circle cx="172" cy="305" r="0.85" fill="#3a72ad"/>
<rect x="187.5" y="282.8" width="31.4" height="27.6" fill="none" stroke="#d98088" stroke-width="0.7"/>
<line x1="187.5" y1="302.3" x2="218.9" y2="302.3" stroke="#d06a74" stroke-width="1.1"/>
<line x1="203.3" y1="256.1" x2="203.3" y2="282.8" stroke="#d98088" stroke-width="0.7"/>
<line x1="203.3" y1="310.4" x2="203.3" y2="317" stroke="#d98088" stroke-width="0.7"/>
<circle cx="191.1" cy="255.7" r="0.85" fill="#c2464f"/>
<circle cx="193.2" cy="257.7" r="0.85" fill="#c2464f"/>
<circle cx="188.1" cy="261.1" r="0.85" fill="#c2464f"/>
<circle cx="212.8" cy="257.7" r="0.85" fill="#c2464f"/>
<circle cx="194.2" cy="267.2" r="0.85" fill="#c2464f"/>
<circle cx="215.5" cy="265.2" r="0.85" fill="#c2464f"/>
<circle cx="217.5" cy="266.2" r="0.85" fill="#c2464f"/>
<circle cx="203.9" cy="267.8" r="0.85" fill="#c2464f"/>
<circle cx="206.4" cy="268.6" r="0.85" fill="#c2464f"/>
<circle cx="207.4" cy="269.9" r="0.85" fill="#c2464f"/>
<circle cx="188.5" cy="275.3" r="0.85" fill="#c2464f"/>
<circle cx="197.2" cy="278.4" r="0.85" fill="#c2464f"/>
<circle cx="197.8" cy="276.8" r="0.85" fill="#c2464f"/>
<circle cx="201.3" cy="276.4" r="0.85" fill="#c2464f"/>
<circle cx="208.4" cy="275.3" r="0.85" fill="#c2464f"/>
<circle cx="213.4" cy="274.7" r="0.85" fill="#c2464f"/>
<circle cx="216.5" cy="276.4" r="0.85" fill="#c2464f"/>
<circle cx="201.9" cy="281.4" r="0.85" fill="#c2464f"/>
<circle cx="208.4" cy="278.4" r="0.85" fill="#c2464f"/>
<circle cx="218.5" cy="279.4" r="0.85" fill="#c2464f"/>
<circle cx="207.4" cy="286.5" r="0.85" fill="#c2464f"/>
<circle cx="197.2" cy="289.5" r="0.85" fill="#c2464f"/>
<circle cx="201.3" cy="290.5" r="0.85" fill="#c2464f"/>
<circle cx="189.1" cy="289.5" r="0.85" fill="#c2464f"/>
<circle cx="191.1" cy="294.6" r="0.85" fill="#c2464f"/>
<circle cx="192.6" cy="295.8" r="0.85" fill="#c2464f"/>
<circle cx="198.2" cy="292.6" r="0.85" fill="#c2464f"/>
<circle cx="200.3" cy="293.6" r="0.85" fill="#c2464f"/>
<circle cx="210.4" cy="293.6" r="0.85" fill="#c2464f"/>
<circle cx="216.5" cy="295.6" r="0.85" fill="#c2464f"/>
<circle cx="218.5" cy="295" r="0.85" fill="#c2464f"/>
<circle cx="193.8" cy="298.7" r="0.85" fill="#c2464f"/>
<circle cx="196.2" cy="299.7" r="0.85" fill="#c2464f"/>
<circle cx="204.3" cy="299.7" r="0.85" fill="#c2464f"/>
<circle cx="208.4" cy="298.7" r="0.85" fill="#c2464f"/>
<circle cx="195.5" cy="308.6" r="0.85" fill="#c2464f"/>
<circle cx="199.7" cy="309.8" r="0.85" fill="#c2464f"/>
<circle cx="207.7" cy="299.3" r="0.85" fill="#c2464f"/>
<circle cx="188.4" cy="314.3" r="0.85" fill="#c2464f"/>
<circle cx="196.2" cy="302.6" r="0.85" fill="#c2464f"/>
<circle cx="219.4" cy="307.2" r="0.85" fill="#c2464f"/>
<circle cx="214.3" cy="307.3" r="0.85" fill="#c2464f"/>
<circle cx="208.1" cy="300.9" r="0.85" fill="#c2464f"/>
<circle cx="208.0" cy="314.9" r="0.85" fill="#c2464f"/>
<circle cx="204.5" cy="312.5" r="0.85" fill="#c2464f"/>
<circle cx="209.1" cy="299.2" r="0.85" fill="#c2464f"/>
<circle cx="211.9" cy="309.5" r="0.85" fill="#c2464f"/>
<circle cx="197.5" cy="298.6" r="0.85" fill="#c2464f"/>
<circle cx="215.3" cy="307.2" r="0.85" fill="#c2464f"/>
<circle cx="210.6" cy="315.1" r="0.85" fill="#c2464f"/>
<circle cx="210.5" cy="316.0" r="0.85" fill="#c2464f"/>
<circle cx="200.4" cy="313.6" r="0.85" fill="#c2464f"/>
<circle cx="202.0" cy="316.2" r="0.85" fill="#c2464f"/>
<circle cx="215.7" cy="299.9" r="0.85" fill="#c2464f"/>
<circle cx="192.3" cy="302.2" r="0.85" fill="#c2464f"/>
<circle cx="218.4" cy="306.5" r="0.85" fill="#c2464f"/>
<circle cx="207.7" cy="303.9" r="0.85" fill="#c2464f"/>
<circle cx="204.0" cy="305.5" r="0.85" fill="#c2464f"/>
<circle cx="199.1" cy="309.4" r="0.85" fill="#c2464f"/>
<circle cx="206.4" cy="315.6" r="0.85" fill="#c2464f"/>
<circle cx="209.5" cy="316.1" r="0.85" fill="#c2464f"/>
<circle cx="215.0" cy="317.3" r="0.85" fill="#c2464f"/>
<circle cx="209.1" cy="301.2" r="0.85" fill="#c2464f"/>
<circle cx="215.1" cy="316.8" r="0.85" fill="#c2464f"/>
<circle cx="216.5" cy="309.1" r="0.85" fill="#c2464f"/>
<circle cx="210.5" cy="302.1" r="0.85" fill="#c2464f"/>
<circle cx="214.2" cy="309.2" r="0.85" fill="#c2464f"/>
<circle cx="197.0" cy="299.2" r="0.85" fill="#c2464f"/>
<circle cx="214.9" cy="317.3" r="0.85" fill="#c2464f"/>
<circle cx="190.8" cy="313.6" r="0.85" fill="#c2464f"/>
<circle cx="200.9" cy="300.9" r="0.85" fill="#c2464f"/>
<circle cx="197.3" cy="313.0" r="0.85" fill="#c2464f"/>
<circle cx="215.5" cy="298.9" r="0.85" fill="#c2464f"/>
<circle cx="207.4" cy="298.9" r="0.85" fill="#c2464f"/>
<circle cx="210.6" cy="304.5" r="0.85" fill="#c2464f"/>
<circle cx="215.7" cy="317.1" r="0.85" fill="#c2464f"/>
<circle cx="203.9" cy="317.5" r="0.85" fill="#c2464f"/>
<circle cx="197.8" cy="299.5" r="0.85" fill="#c2464f"/>
<circle cx="206.9" cy="298.6" r="0.85" fill="#c2464f"/>
<circle cx="194.2" cy="306.0" r="0.85" fill="#c2464f"/>
<circle cx="207.2" cy="301.0" r="0.85" fill="#c2464f"/>
<circle cx="189.3" cy="314.9" r="0.85" fill="#c2464f"/>
<circle cx="197.9" cy="316.7" r="0.85" fill="#c2464f"/>
<circle cx="216.2" cy="305.4" r="0.85" fill="#c2464f"/>
<circle cx="202.5" cy="308.1" r="0.85" fill="#c2464f"/>
<circle cx="208.3" cy="309.6" r="0.85" fill="#c2464f"/>
<circle cx="205.6" cy="310.1" r="0.85" fill="#c2464f"/>
<circle cx="217.6" cy="307.9" r="0.85" fill="#c2464f"/>
<circle cx="201.6" cy="312.0" r="0.85" fill="#c2464f"/>
<circle cx="195.5" cy="303.9" r="0.85" fill="#c2464f"/>
<circle cx="218.8" cy="308.2" r="0.85" fill="#c2464f"/>
<circle cx="205.3" cy="298.2" r="0.85" fill="#c2464f"/>
<circle cx="201.1" cy="309.3" r="0.85" fill="#c2464f"/></g>
<text x="386.9" y="40.3" font-size="7.05" font-weight="bold" fill="#3c3c3c">Spacer match</text>
<rect x="282" y="48.3" width="232.8" height="5.8" fill="#c6c6be"/>
<rect x="282" y="60" width="232.8" height="5.8" fill="#c6c6be"/>
<rect x="483.47" y="48.3" width="4.6" height="5.8" fill="#ee7a52"/>
<rect x="483.47" y="60" width="4.6" height="5.8" fill="#ee7a52"/>
<line x1="287.50" y1="54.1" x2="287.50" y2="60" stroke="#675a5a" stroke-width="0.6"/>
<line x1="293.33" y1="54.1" x2="293.33" y2="60" stroke="#675a5a" stroke-width="0.6"/>
<line x1="299.16" y1="54.1" x2="299.16" y2="60" stroke="#675a5a" stroke-width="0.6"/>
<line x1="304.99" y1="54.1" x2="304.99" y2="60" stroke="#675a5a" stroke-width="0.6"/>
<line x1="310.83" y1="54.1" x2="310.83" y2="60" stroke="#675a5a" stroke-width="0.6"/>
<line x1="316.66" y1="54.1" x2="316.66" y2="60" stroke="#675a5a" stroke-width="0.6"/>
<line x1="322.49" y1="54.1" x2="322.49" y2="60" stroke="#675a5a" stroke-width="0.6"/>
<line x1="328.32" y1="54.1" x2="328.32" y2="60" stroke="#675a5a" stroke-width="0.6"/>
<line x1="334.15" y1="54.1" x2="334.15" y2="60" stroke="#675a5a" stroke-width="0.6"/>
<line x1="339.98" y1="54.1" x2="339.98" y2="60" stroke="#675a5a" stroke-width="0.6"/>
<line x1="345.82" y1="54.1" x2="345.82" y2="60" stroke="#675a5a" stroke-width="0.6"/>
<line x1="351.65" y1="54.1" x2="351.65" y2="60" stroke="#675a5a" stroke-width="0.6"/>
<line x1="357.48" y1="54.1" x2="357.48" y2="60" stroke="#675a5a" stroke-width="0.6"/>
<line x1="363.31" y1="54.1" x2="363.31" y2="60" stroke="#675a5a" stroke-width="0.6"/>
<line x1="369.14" y1="54.1" x2="369.14" y2="60" stroke="#675a5a" stroke-width="0.6"/>
<line x1="374.97" y1="54.1" x2="374.97" y2="60" stroke="#675a5a" stroke-width="0.6"/>
<line x1="380.81" y1="54.1" x2="380.81" y2="60" stroke="#675a5a" stroke-width="0.6"/>
<line x1="386.64" y1="54.1" x2="386.64" y2="60" stroke="#675a5a" stroke-width="0.6"/>
<line x1="392.47" y1="54.1" x2="392.47" y2="60" stroke="#675a5a" stroke-width="0.6"/>
<line x1="398.30" y1="54.1" x2="398.30" y2="60" stroke="#675a5a" stroke-width="0.6"/>
<line x1="404.13" y1="54.1" x2="404.13" y2="60" stroke="#675a5a" stroke-width="0.6"/>
<line x1="409.96" y1="54.1" x2="409.96" y2="60" stroke="#675a5a" stroke-width="0.6"/>
<line x1="415.79" y1="54.1" x2="415.79" y2="60" stroke="#675a5a" stroke-width="0.6"/>
<line x1="421.63" y1="54.1" x2="421.63" y2="60" stroke="#675a5a" stroke-width="0.6"/>
<line x1="427.46" y1="54.1" x2="427.46" y2="60" stroke="#675a5a" stroke-width="0.6"/>
<line x1="433.29" y1="54.1" x2="433.29" y2="60" stroke="#675a5a" stroke-width="0.6"/>
<line x1="439.12" y1="54.1" x2="439.12" y2="60" stroke="#675a5a" stroke-width="0.6"/>
<line x1="444.95" y1="54.1" x2="444.95" y2="60" stroke="#675a5a" stroke-width="0.6"/>
<line x1="450.78" y1="54.1" x2="450.78" y2="60" stroke="#675a5a" stroke-width="0.6"/>
<line x1="456.62" y1="54.1" x2="456.62" y2="60" stroke="#675a5a" stroke-width="0.6"/>
<line x1="462.45" y1="54.1" x2="462.45" y2="60" stroke="#675a5a" stroke-width="0.6"/>
<line x1="468.28" y1="54.1" x2="468.28" y2="60" stroke="#675a5a" stroke-width="0.6"/>
<line x1="474.11" y1="54.1" x2="474.11" y2="60" stroke="#675a5a" stroke-width="0.6"/>
<line x1="479.94" y1="54.1" x2="479.94" y2="60" stroke="#675a5a" stroke-width="0.6"/>
<line x1="485.77" y1="54.1" x2="485.77" y2="60" stroke="#e98a6a" stroke-width="0.6"/>
<line x1="491.61" y1="54.1" x2="491.61" y2="60" stroke="#675a5a" stroke-width="0.6"/>
<line x1="497.44" y1="54.1" x2="497.44" y2="60" stroke="#675a5a" stroke-width="0.6"/>
<line x1="503.27" y1="54.1" x2="503.27" y2="60" stroke="#675a5a" stroke-width="0.6"/>
<line x1="509.10" y1="54.1" x2="509.10" y2="60" stroke="#675a5a" stroke-width="0.6"/>
<text x="287.50" y="52.9" font-size="4.6" font-weight="bold" text-anchor="middle" fill="#303030">C</text>
<text x="287.50" y="64.6" font-size="4.6" font-weight="bold" text-anchor="middle" fill="#303030">C</text>
<text x="293.33" y="52.9" font-size="4.6" font-weight="bold" text-anchor="middle" fill="#303030">C</text>
<text x="293.33" y="64.6" font-size="4.6" font-weight="bold" text-anchor="middle" fill="#303030">C</text>
<text x="299.16" y="52.9" font-size="4.6" font-weight="bold" text-anchor="middle" fill="#303030">G</text>
<text x="299.16" y="64.6" font-size="4.6" font-weight="bold" text-anchor="middle" fill="#303030">G</text>
<text x="304.99" y="52.9" font-size="4.6" font-weight="bold" text-anchor="middle" fill="#303030">G</text>
<text x="304.99" y="64.6" font-size="4.6" font-weight="bold" text-anchor="middle" fill="#303030">G</text>
<text x="310.83" y="52.9" font-size="4.6" font-weight="bold" text-anchor="middle" fill="#303030">A</text>
<text x="310.83" y="64.6" font-size="4.6" font-weight="bold" text-anchor="middle" fill="#303030">A</text>
<text x="316.66" y="52.9" font-size="4.6" font-weight="bold" text-anchor="middle" fill="#303030">C</text>
<text x="316.66" y="64.6" font-size="4.6" font-weight="bold" text-anchor="middle" fill="#303030">C</text>
<text x="322.49" y="52.9" font-size="4.6" font-weight="bold" text-anchor="middle" fill="#303030">T</text>
<text x="322.49" y="64.6" font-size="4.6" font-weight="bold" text-anchor="middle" fill="#303030">T</text>
<text x="328.32" y="52.9" font-size="4.6" font-weight="bold" text-anchor="middle" fill="#303030">T</text>
<text x="328.32" y="64.6" font-size="4.6" font-weight="bold" text-anchor="middle" fill="#303030">T</text>
<text x="334.15" y="52.9" font-size="4.6" font-weight="bold" text-anchor="middle" fill="#303030">C</text>
<text x="334.15" y="64.6" font-size="4.6" font-weight="bold" text-anchor="middle" fill="#303030">C</text>
<text x="339.98" y="52.9" font-size="4.6" font-weight="bold" text-anchor="middle" fill="#303030">A</text>
<text x="339.98" y="64.6" font-size="4.6" font-weight="bold" text-anchor="middle" fill="#303030">A</text>
<text x="345.82" y="52.9" font-size="4.6" font-weight="bold" text-anchor="middle" fill="#303030">T</text>
<text x="345.82" y="64.6" font-size="4.6" font-weight="bold" text-anchor="middle" fill="#303030">T</text>
<text x="351.65" y="52.9" font-size="4.6" font-weight="bold" text-anchor="middle" fill="#303030">C</text>
<text x="351.65" y="64.6" font-size="4.6" font-weight="bold" text-anchor="middle" fill="#303030">C</text>
<text x="357.48" y="52.9" font-size="4.6" font-weight="bold" text-anchor="middle" fill="#303030">A</text>
<text x="357.48" y="64.6" font-size="4.6" font-weight="bold" text-anchor="middle" fill="#303030">A</text>
<text x="363.31" y="52.9" font-size="4.6" font-weight="bold" text-anchor="middle" fill="#303030">A</text>
<text x="363.31" y="64.6" font-size="4.6" font-weight="bold" text-anchor="middle" fill="#303030">A</text>
<text x="369.14" y="52.9" font-size="4.6" font-weight="bold" text-anchor="middle" fill="#303030">G</text>
<text x="369.14" y="64.6" font-size="4.6" font-weight="bold" text-anchor="middle" fill="#303030">G</text>
<text x="374.97" y="52.9" font-size="4.6" font-weight="bold" text-anchor="middle" fill="#303030">C</text>
<text x="374.97" y="64.6" font-size="4.6" font-weight="bold" text-anchor="middle" fill="#303030">C</text>
<text x="380.81" y="52.9" font-size="4.6" font-weight="bold" text-anchor="middle" fill="#303030">T</text>
<text x="380.81" y="64.6" font-size="4.6" font-weight="bold" text-anchor="middle" fill="#303030">T</text>
<text x="386.64" y="52.9" font-size="4.6" font-weight="bold" text-anchor="middle" fill="#303030">G</text>
<text x="386.64" y="64.6" font-size="4.6" font-weight="bold" text-anchor="middle" fill="#303030">C</text>
<text x="392.47" y="52.9" font-size="4.6" font-weight="bold" text-anchor="middle" fill="#303030">T</text>
<text x="392.47" y="64.6" font-size="4.6" font-weight="bold" text-anchor="middle" fill="#303030">T</text>
<text x="398.30" y="52.9" font-size="4.6" font-weight="bold" text-anchor="middle" fill="#303030">A</text>
<text x="398.30" y="64.6" font-size="4.6" font-weight="bold" text-anchor="middle" fill="#303030">A</text>
<text x="404.13" y="52.9" font-size="4.6" font-weight="bold" text-anchor="middle" fill="#303030">C</text>
<text x="404.13" y="64.6" font-size="4.6" font-weight="bold" text-anchor="middle" fill="#303030">C</text>
<text x="409.96" y="52.9" font-size="4.6" font-weight="bold" text-anchor="middle" fill="#303030">T</text>
<text x="409.96" y="64.6" font-size="4.6" font-weight="bold" text-anchor="middle" fill="#303030">T</text>
<text x="415.79" y="52.9" font-size="4.6" font-weight="bold" text-anchor="middle" fill="#303030">A</text>
<text x="415.79" y="64.6" font-size="4.6" font-weight="bold" text-anchor="middle" fill="#303030">A</text>
<text x="421.63" y="52.9" font-size="4.6" font-weight="bold" text-anchor="middle" fill="#303030">C</text>
<text x="421.63" y="64.6" font-size="4.6" font-weight="bold" text-anchor="middle" fill="#303030">C</text>
<text x="427.46" y="52.9" font-size="4.6" font-weight="bold" text-anchor="middle" fill="#303030">G</text>
<text x="427.46" y="64.6" font-size="4.6" font-weight="bold" text-anchor="middle" fill="#303030">G</text>
<text x="433.29" y="52.9" font-size="4.6" font-weight="bold" text-anchor="middle" fill="#303030">A</text>
<text x="433.29" y="64.6" font-size="4.6" font-weight="bold" text-anchor="middle" fill="#303030">A</text>
<text x="439.12" y="52.9" font-size="4.6" font-weight="bold" text-anchor="middle" fill="#303030">G</text>
<text x="439.12" y="64.6" font-size="4.6" font-weight="bold" text-anchor="middle" fill="#303030">G</text>
<text x="444.95" y="52.9" font-size="4.6" font-weight="bold" text-anchor="middle" fill="#303030">A</text>
<text x="444.95" y="64.6" font-size="4.6" font-weight="bold" text-anchor="middle" fill="#303030">A</text>
<text x="450.78" y="52.9" font-size="4.6" font-weight="bold" text-anchor="middle" fill="#303030">A</text>
<text x="450.78" y="64.6" font-size="4.6" font-weight="bold" text-anchor="middle" fill="#303030">A</text>
<text x="456.62" y="52.9" font-size="4.6" font-weight="bold" text-anchor="middle" fill="#303030">C</text>
<text x="456.62" y="64.6" font-size="4.6" font-weight="bold" text-anchor="middle" fill="#303030">C</text>
<text x="462.45" y="52.9" font-size="4.6" font-weight="bold" text-anchor="middle" fill="#303030">G</text>
<text x="462.45" y="64.6" font-size="4.6" font-weight="bold" text-anchor="middle" fill="#303030">G</text>
<text x="468.28" y="52.9" font-size="4.6" font-weight="bold" text-anchor="middle" fill="#303030">T</text>
<text x="468.28" y="64.6" font-size="4.6" font-weight="bold" text-anchor="middle" fill="#303030">T</text>
<text x="474.11" y="52.9" font-size="4.6" font-weight="bold" text-anchor="middle" fill="#303030">A</text>
<text x="474.11" y="64.6" font-size="4.6" font-weight="bold" text-anchor="middle" fill="#303030">A</text>
<text x="479.94" y="52.9" font-size="4.6" font-weight="bold" text-anchor="middle" fill="#303030">G</text>
<text x="479.94" y="64.6" font-size="4.6" font-weight="bold" text-anchor="middle" fill="#303030">G</text>
<text x="485.77" y="52.9" font-size="4.6" font-weight="bold" text-anchor="middle" fill="#fff">T</text>
<text x="485.77" y="64.6" font-size="4.6" font-weight="bold" text-anchor="middle" fill="#fff">C</text>
<text x="491.61" y="52.9" font-size="4.6" font-weight="bold" text-anchor="middle" fill="#303030">C</text>
<text x="491.61" y="64.6" font-size="4.6" font-weight="bold" text-anchor="middle" fill="#303030">C</text>
<text x="497.44" y="52.9" font-size="4.6" font-weight="bold" text-anchor="middle" fill="#303030">G</text>
<text x="497.44" y="64.6" font-size="4.6" font-weight="bold" text-anchor="middle" fill="#303030">G</text>
<text x="503.27" y="52.9" font-size="4.6" font-weight="bold" text-anchor="middle" fill="#303030">G</text>
<text x="503.27" y="64.6" font-size="4.6" font-weight="bold" text-anchor="middle" fill="#303030">G</text>
<text x="509.10" y="52.9" font-size="4.6" font-weight="bold" text-anchor="middle" fill="#303030">C</text>
<text x="509.10" y="64.6" font-size="4.6" font-weight="bold" text-anchor="middle" fill="#303030">C</text>
<line x1="516.2" y1="51.3" x2="541.3" y2="51.3" stroke="#8a7d7d" stroke-width="0.8"/>
<polyline points="519.8,48.6 516.2,51.3 519.8,54" fill="none" stroke="#8a7d7d" stroke-width="0.8"/>
<polyline points="516.2,62.8 523.5,62.8 523.5,84.1" fill="none" stroke="#8a7d7d" stroke-width="0.8"/>
<polyline points="519.8,60.1 516.2,62.8 519.8,65.5" fill="none" stroke="#8a7d7d" stroke-width="0.8"/>
<polygon points="642.8,61.1 650.1,64.4 650.1,71.3 642.8,74.4 635.4,71.3 635.4,64.4" fill="#fff"/>
<polygon points="588.6,43.1 642.2,67.5 588.6,68.5" fill="#cdcac8"/>
<polygon points="588.3,84.6 588.3,136.6 612.3,110.1" fill="#cdcac8"/>
<rect x="541.3" y="43.2" width="47.3" height="25.3" fill="#fff" stroke="#6e6565" stroke-width="1.1"/>
<text x="549.4" y="52.7" font-size="6.1" font-weight="bold" fill="#444">Protospacer</text>
<rect x="564.6" y="58.2" width="1.2" height="4.4" fill="#b5b5b5"/>
<rect x="262.6" y="84.1" width="325.7" height="52.8" fill="#fff" stroke="#6e6565" stroke-width="1.1"/>
<text x="271.3" y="94.5" font-size="6.05" font-weight="bold" fill="#2a2a2a">NODE_67_length_192760_cov_10.863108</text>
<rect x="416.8" y="89.2" width="5.4" height="5.8" fill="#bf932e" stroke="#4a4a4a" stroke-width="0.35"/>
<text x="426.2" y="94.4" font-size="6.0" font-weight="bold" fill="#222">Adaptation</text>
<rect x="467.4" y="89.2" width="5.4" height="5.8" fill="#77288a" stroke="#4a4a4a" stroke-width="0.35"/>
<text x="476.79999999999995" y="94.4" font-size="6.0" font-weight="bold" fill="#222">Interference</text>
<rect x="519.2" y="89.2" width="5.4" height="5.8" fill="#28779a" stroke="#4a4a4a" stroke-width="0.35"/>
<text x="528.6" y="94.4" font-size="6.0" font-weight="bold" fill="#222">Accessory</text>
<line x1="271.3" y1="111.5" x2="571.5" y2="111.5" stroke="#888" stroke-width="0.5"/>
<polygon points="284.5,109.95 338.0,109.95 338.0,109.0 341.6,111.4 338.0,113.80000000000001 338.0,112.85000000000001 284.5,112.85000000000001" fill="#6f2079" stroke="#4e1257" stroke-width="0.4" stroke-linejoin="round"/>
<polygon points="342.2,109.95 388.2,109.95 388.2,109.0 391.8,111.4 388.2,113.80000000000001 388.2,112.85000000000001 342.2,112.85000000000001" fill="#1f6b86" stroke="#154c60" stroke-width="0.4" stroke-linejoin="round"/>
<polygon points="392.4,109.95 411.5,109.95 411.5,109.0 415.1,111.4 411.5,113.80000000000001 411.5,112.85000000000001 392.4,112.85000000000001" fill="#6f2079" stroke="#4e1257" stroke-width="0.4" stroke-linejoin="round"/>
<polygon points="416.1,109.95 447.09999999999997,109.95 447.09999999999997,109.0 450.7,111.4 447.09999999999997,113.80000000000001 447.09999999999997,112.85000000000001 416.1,112.85000000000001" fill="#6f2079" stroke="#4e1257" stroke-width="0.4" stroke-linejoin="round"/>
<polygon points="451.1,109.95 485.09999999999997,109.95 485.09999999999997,109.0 488.7,111.4 485.09999999999997,113.80000000000001 485.09999999999997,112.85000000000001 451.1,112.85000000000001" fill="#bd8f2b" stroke="#8c6a1e" stroke-width="0.4" stroke-linejoin="round"/>
<polygon points="489.2,109.95 492.5,109.95 492.5,109.0 495.8,111.4 492.5,113.80000000000001 492.5,112.85000000000001 489.2,112.85000000000001" fill="#bd8f2b" stroke="#8c6a1e" stroke-width="0.4" stroke-linejoin="round"/>
<text x="309.9" y="106.5" font-size="4.9" text-anchor="middle" fill="#222">Cas3</text>
<text x="366.4" y="106.5" font-size="4.9" text-anchor="middle" fill="#222">Cas8u1</text>
<text x="406" y="106.5" font-size="4.9" text-anchor="middle" fill="#222">Csb1gr7</text>
<text x="433" y="106.5" font-size="4.9" text-anchor="middle" fill="#222">Csb2gr6</text>
<text x="471.5" y="106.5" font-size="4.9" text-anchor="middle" fill="#222">Cas4-Cas1</text>
<text x="493.4" y="106.5" font-size="4.9" text-anchor="middle" fill="#222">Cas2</text>
<text x="535" y="106.5" font-size="4.9" text-anchor="middle" fill="#222">CRISPR</text>
<rect x="501.3" y="109.3" width="55.6" height="4.5" fill="#d0d0ca"/>
<polygon points="504.10,109.1 505.15,111.55 504.10,114 503.05,111.55" fill="#fafafa" stroke="#383838" stroke-width="0.5"/>
<polygon points="508.47,109.1 509.52,111.55 508.47,114 507.42,111.55" fill="#fafafa" stroke="#383838" stroke-width="0.5"/>
<polygon points="512.84,109.1 513.89,111.55 512.84,114 511.79,111.55" fill="#fafafa" stroke="#383838" stroke-width="0.5"/>
<polygon points="517.21,109.1 518.26,111.55 517.21,114 516.16,111.55" fill="#fafafa" stroke="#383838" stroke-width="0.5"/>
<polygon points="521.58,109.1 522.63,111.55 521.58,114 520.53,111.55" fill="#fafafa" stroke="#383838" stroke-width="0.5"/>
<polygon points="525.95,109.1 527.00,111.55 525.95,114 524.90,111.55" fill="#fafafa" stroke="#383838" stroke-width="0.5"/>
<polygon points="530.32,109.1 531.37,111.55 530.32,114 529.27,111.55" fill="#fafafa" stroke="#383838" stroke-width="0.5"/>
<polygon points="534.69,109.1 535.74,111.55 534.69,114 533.64,111.55" fill="#fafafa" stroke="#383838" stroke-width="0.5"/>
<polygon points="539.06,109.1 540.11,111.55 539.06,114 538.01,111.55" fill="#fafafa" stroke="#383838" stroke-width="0.5"/>
<polygon points="543.43,109.1 544.48,111.55 543.43,114 542.38,111.55" fill="#fafafa" stroke="#383838" stroke-width="0.5"/>
<polygon points="547.80,109.1 548.85,111.55 547.80,114 546.75,111.55" fill="#fafafa" stroke="#383838" stroke-width="0.5"/>
<polygon points="552.17,109.1 553.22,111.55 552.17,114 551.12,111.55" fill="#fafafa" stroke="#383838" stroke-width="0.5"/>
<polygon points="556.54,109.1 557.59,111.55 556.54,114 555.49,111.55" fill="#fafafa" stroke="#383838" stroke-width="0.5"/>
<line x1="271.3" y1="122" x2="572" y2="122" stroke="#a8a8a8" stroke-width="1.4"/>
<line x1="350.9" y1="122" x2="350.9" y2="123.6" stroke="#666" stroke-width="0.5"/>
<line x1="463.9" y1="122" x2="463.9" y2="123.6" stroke="#666" stroke-width="0.5"/>
<text x="353.3" y="127.9" font-size="4.7" text-anchor="middle" fill="#333">125000</text>
<text x="465.7" y="127.9" font-size="4.7" text-anchor="middle" fill="#333">130000</text>
<text x="415.9" y="132.3" font-size="6.0" font-weight="bold" fill="#3a3a3a">Type I-G</text>
<ellipse cx="644.6" cy="108.3" rx="39.8" ry="20.7" fill="rgba(235,201,135,0.5)" stroke="#c4865a" stroke-width="0.9"/>
<path d="M612.93,108.55 C613.75,107.81 616.05,106.61 617.85,106.29 C619.66,105.96 621.96,106.09 623.76,106.58 C625.57,107.07 627.29,108.06 628.69,109.24 C630.09,110.42 631.65,112.44 632.14,113.67 C632.63,114.91 632.55,116.01 631.65,116.63 C630.74,117.25 628.69,117.50 626.72,117.42 C624.75,117.34 621.79,116.84 619.82,116.14 C617.85,115.43 616.05,114.09 614.90,113.18 C613.75,112.28 613.25,111.49 612.93,110.72 C612.60,109.95 612.11,109.29 612.93,108.55 M632.14,115.65 C632.35,114.82 633.42,112.20 633.42,110.72 C633.42,109.24 632.93,107.93 632.14,106.78 C631.35,105.63 629.67,104.84 628.69,103.82 C627.70,102.80 626.56,101.66 626.23,100.67 C625.90,99.68 626.06,98.54 626.72,97.91 C627.38,97.29 628.99,96.79 630.17,96.93 C631.35,97.06 632.91,97.96 633.81,98.70 C634.72,99.44 634.96,100.51 635.59,101.36 C636.21,102.21 636.57,103.22 637.56,103.82 C638.54,104.43 640.32,105.04 641.50,105.00 C642.68,104.97 643.96,104.40 644.65,103.63 C645.34,102.85 645.80,101.49 645.64,100.37 C645.47,99.26 644.52,97.67 643.67,96.93 C642.81,96.19 641.61,95.94 640.51,95.94 C639.41,95.94 638.05,96.27 637.06,96.93 C636.08,97.58 635.34,98.81 634.60,99.88 C633.86,100.95 633.04,102.18 632.63,103.33 C632.22,104.48 631.56,106.04 632.14,106.78 C632.71,107.52 634.60,107.27 636.08,107.76 C637.56,108.26 639.69,108.83 641.00,109.73 C642.32,110.64 643.47,111.95 643.96,113.18 C644.45,114.41 644.54,116.22 643.96,117.12 C643.39,118.03 641.83,118.52 640.51,118.60 C639.20,118.68 637.20,118.27 636.08,117.62 C634.96,116.96 634.31,115.81 633.81,114.66 C633.32,113.51 633.24,111.38 633.12,110.72 M645.44,103.33 C645.93,102.92 648.07,101.85 649.38,101.85 C650.69,101.85 652.37,102.34 653.32,103.33 C654.27,104.32 655.06,106.29 655.09,107.76 C655.13,109.24 654.34,111.18 653.52,112.20 C652.70,113.22 651.10,113.95 650.17,113.87 C649.23,113.79 648.39,112.72 647.90,111.70 C647.41,110.69 647.46,109.00 647.21,107.76 C646.97,106.53 646.72,105.05 646.42,104.32 C646.13,103.58 644.95,103.74 645.44,103.33" fill="none" stroke="#bb7a48" stroke-width="0.8"/>
<line x1="612.3" y1="108.1" x2="612.3" y2="111.9" stroke="#2d3a55" stroke-width="1.1"/>
<polygon points="642.8,61.1 650.1,64.4 650.1,71.3 642.8,74.4 635.4,71.3 635.4,64.4" fill="none" stroke="#333" stroke-width="0.7"/>
<rect x="641.3" y="73.9" width="2.9" height="9.3" fill="#d2d2d2"/>
<path d="M641.2,78.6 L634.3,86.7 M641.3,82.6 L637.4,86.7 M644.2,78.6 L655.6,86.9 M644.3,82.6 L650.4,86.7 M641,83.3 L644.5,83.3" fill="none" stroke="#333" stroke-width="0.55"/>
<path d="M642.2,66.6 C643,70 643.3,75 642.6,80 C642.3,85 644,88 647,90 C652,92.5 658,93 663,93.7 C667,94.5 668,96 666.6,96.5 L660.1,100.7 L665.9,102.1 L662.2,105.3 L673.1,106.4" fill="none" stroke="#2e6ea4" stroke-width="0.9" stroke-linejoin="round"/>
<text x="629.3" y="55.9" font-size="6.7" font-weight="bold" textLength="52.7" lengthAdjust="spacingAndGlyphs" fill="#505050">YP4_provirus51</text>
<text x="629.5" y="140" font-size="6.7" font-weight="bold" textLength="33.5" lengthAdjust="spacingAndGlyphs" fill="#505050">YP2.bin58</text>
<line x1="279.3" y1="176.8" x2="279.3" y2="324.6" stroke="#333" stroke-width="0.9"/>
<line x1="278.9" y1="324.2" x2="443.7" y2="324.2" stroke="#333" stroke-width="0.9"/>
<line x1="277.4" y1="317.00" x2="279.3" y2="317.00" stroke="#333" stroke-width="0.7"/>
<text transform="translate(275.4,317.00) rotate(-90)" font-size="6.8" text-anchor="middle" fill="#4d4d4d">0</text>
<line x1="287.50" y1="324.6" x2="287.50" y2="326.4" stroke="#333" stroke-width="0.7"/>
<text x="288.30" y="332.6" font-size="6.8" text-anchor="middle" fill="#4d4d4d">0</text>
<line x1="277.4" y1="272.56" x2="279.3" y2="272.56" stroke="#333" stroke-width="0.7"/>
<text transform="translate(275.4,272.56) rotate(-90)" font-size="6.8" text-anchor="middle" fill="#4d4d4d">50</text>
<line x1="337.27" y1="324.6" x2="337.27" y2="326.4" stroke="#333" stroke-width="0.7"/>
<text x="338.07" y="332.6" font-size="6.8" text-anchor="middle" fill="#4d4d4d">50</text>
<line x1="277.4" y1="228.13" x2="279.3" y2="228.13" stroke="#333" stroke-width="0.7"/>
<text transform="translate(275.4,228.13) rotate(-90)" font-size="6.8" text-anchor="middle" fill="#4d4d4d">100</text>
<line x1="387.05" y1="324.6" x2="387.05" y2="326.4" stroke="#333" stroke-width="0.7"/>
<text x="387.85" y="332.6" font-size="6.8" text-anchor="middle" fill="#4d4d4d">100</text>
<line x1="277.4" y1="183.69" x2="279.3" y2="183.69" stroke="#333" stroke-width="0.7"/>
<text transform="translate(275.4,183.69) rotate(-90)" font-size="6.8" text-anchor="middle" fill="#4d4d4d">150</text>
<line x1="436.83" y1="324.6" x2="436.83" y2="326.4" stroke="#333" stroke-width="0.7"/>
<text x="437.63" y="332.6" font-size="6.8" text-anchor="middle" fill="#4d4d4d">150</text>
<text x="365.4" y="343.3" font-size="9.77" text-anchor="middle" fill="#111">Viral Abundance</text>
<text transform="translate(262.8,255.2) rotate(-90)" font-size="9.4" text-anchor="middle" fill="#111">SH Abundance</text>
<line x1="287.3" y1="282.4" x2="415.9" y2="184.1" stroke="#8a8a8a" stroke-width="0.95"/>
<line x1="287.3" y1="289" x2="297.3" y2="206.3" stroke="#74305f" stroke-width="1.0"/>
<circle cx="306.1" cy="242.4" r="1.7" fill="#8e8e8e"/>
<circle cx="321.4" cy="246.2" r="1.7" fill="#8e8e8e"/>
<circle cx="303.5" cy="254.2" r="1.7" fill="#8e8e8e"/>
<circle cx="341.6" cy="271.9" r="1.7" fill="#8e8e8e"/>
<circle cx="415.9" cy="191.1" r="1.7" fill="#8e8e8e"/>
<circle cx="292.2" cy="189.3" r="1.75" fill="#74305f"/>
<circle cx="289" cy="226.7" r="1.75" fill="#74305f"/>
<circle cx="287" cy="232.3" r="1.75" fill="#74305f"/>
<circle cx="289.6" cy="232" r="1.75" fill="#74305f"/>
<circle cx="296.9" cy="231.6" r="1.75" fill="#74305f"/>
<circle cx="295.3" cy="234.6" r="1.75" fill="#74305f"/>
<circle cx="290.1" cy="249.9" r="1.75" fill="#74305f"/>
<circle cx="289.7" cy="270.8" r="1.75" fill="#74305f"/>
<circle cx="293.3" cy="272.4" r="1.75" fill="#74305f"/>
<circle cx="290.5" cy="277.2" r="1.75" fill="#74305f"/>
<circle cx="287.3" cy="289" r="1.75" fill="#74305f"/>
<circle cx="287.3" cy="292.2" r="1.75" fill="#74305f"/>
<circle cx="287.3" cy="294.5" r="1.75" fill="#74305f"/>
<circle cx="287.3" cy="296.2" r="1.75" fill="#74305f"/>
<circle cx="287.3" cy="300.3" r="1.75" fill="#74305f"/>
<circle cx="287.3" cy="304.9" r="1.75" fill="#74305f"/>
<circle cx="287.3" cy="306.6" r="1.75" fill="#74305f"/>
<circle cx="287.3" cy="308.4" r="1.75" fill="#74305f"/>
<circle cx="287.3" cy="310.1" r="1.75" fill="#74305f"/>
<circle cx="287.3" cy="311.8" r="1.75" fill="#74305f"/>
<circle cx="287.3" cy="313.6" r="1.75" fill="#74305f"/>
<circle cx="287.3" cy="317.1" r="1.75" fill="#74305f"/>
<text x="357" y="288" font-size="6.12" fill="#111">Overall: R=0.72 (p=3.6e−06)</text>
<text x="357" y="296.8" font-size="6.12" fill="#733368">Filtered: R=0.75 (p=5.7e−06)</text>
<line x1="506.5" y1="178.1" x2="506.5" y2="324.6" stroke="#333" stroke-width="0.9"/>
<line x1="506.1" y1="324.2" x2="669.9" y2="324.2" stroke="#333" stroke-width="0.9"/>
<line x1="504.6" y1="310.40" x2="506.5" y2="310.40" stroke="#333" stroke-width="0.7"/>
<text transform="translate(502.6,310.40) rotate(-90)" font-size="6.8" text-anchor="middle" fill="#4d4d4d">0.0</text>
<line x1="504.6" y1="278.05" x2="506.5" y2="278.05" stroke="#333" stroke-width="0.7"/>
<text transform="translate(502.6,278.05) rotate(-90)" font-size="6.8" text-anchor="middle" fill="#4d4d4d">0.5</text>
<line x1="504.6" y1="245.70" x2="506.5" y2="245.70" stroke="#333" stroke-width="0.7"/>
<text transform="translate(502.6,245.70) rotate(-90)" font-size="6.8" text-anchor="middle" fill="#4d4d4d">1.0</text>
<line x1="504.6" y1="213.35" x2="506.5" y2="213.35" stroke="#333" stroke-width="0.7"/>
<text transform="translate(502.6,213.35) rotate(-90)" font-size="6.8" text-anchor="middle" fill="#4d4d4d">1.5</text>
<line x1="504.6" y1="181.00" x2="506.5" y2="181.00" stroke="#333" stroke-width="0.7"/>
<text transform="translate(502.6,181.00) rotate(-90)" font-size="6.8" text-anchor="middle" fill="#4d4d4d">2.0</text>
<line x1="513.60" y1="324.6" x2="513.60" y2="326.4" stroke="#333" stroke-width="0.7"/>
<text x="514.40" y="332.6" font-size="6.8" text-anchor="middle" fill="#4d4d4d">0</text>
<line x1="563.00" y1="324.6" x2="563.00" y2="326.4" stroke="#333" stroke-width="0.7"/>
<text x="563.80" y="332.6" font-size="6.8" text-anchor="middle" fill="#4d4d4d">50</text>
<line x1="612.40" y1="324.6" x2="612.40" y2="326.4" stroke="#333" stroke-width="0.7"/>
<text x="613.20" y="332.6" font-size="6.8" text-anchor="middle" fill="#4d4d4d">100</text>
<line x1="661.80" y1="324.6" x2="661.80" y2="326.4" stroke="#333" stroke-width="0.7"/>
<text x="662.60" y="332.6" font-size="6.8" text-anchor="middle" fill="#4d4d4d">150</text>
<text x="590" y="343.3" font-size="9.77" text-anchor="middle" fill="#111">Viral Abundance</text>
<text transform="translate(492.6,251.1) rotate(-90)" font-size="9.66" text-anchor="middle" fill="#111">SHs versus DPANN</text>
<line x1="514.8" y1="232.9" x2="642.3" y2="317.6" stroke="#8a8a8a" stroke-width="0.9"/>
<line x1="513.5" y1="224.4" x2="523.5" y2="271.2" stroke="#74305f" stroke-width="0.9"/>
<circle cx="532.4" cy="234.2" r="1.7" fill="#8e8e8e"/>
<circle cx="530.2" cy="265.7" r="1.7" fill="#8e8e8e"/>
<circle cx="547.8" cy="275.2" r="1.7" fill="#8e8e8e"/>
<circle cx="568.2" cy="283.9" r="1.7" fill="#8e8e8e"/>
<circle cx="642.3" cy="299.1" r="1.7" fill="#8e8e8e"/>
<circle cx="516.5" cy="184" r="1.75" fill="#74305f"/>
<circle cx="513.9" cy="185.1" r="1.75" fill="#74305f"/>
<circle cx="513.6" cy="187.5" r="1.75" fill="#74305f"/>
<circle cx="513.6" cy="192.7" r="1.75" fill="#74305f"/>
<circle cx="514.8" cy="193.8" r="1.75" fill="#74305f"/>
<circle cx="514" cy="206.4" r="1.75" fill="#74305f"/>
<circle cx="514" cy="207.9" r="1.75" fill="#74305f"/>
<circle cx="514" cy="211.4" r="1.75" fill="#74305f"/>
<circle cx="513.7" cy="215.4" r="1.75" fill="#74305f"/>
<circle cx="513.7" cy="216.6" r="1.75" fill="#74305f"/>
<circle cx="514" cy="217.3" r="1.75" fill="#74305f"/>
<circle cx="513.3" cy="220.1" r="1.75" fill="#74305f"/>
<circle cx="513.3" cy="223.6" r="1.75" fill="#74305f"/>
<circle cx="513.3" cy="228.8" r="1.75" fill="#74305f"/>
<circle cx="516.5" cy="233.1" r="1.75" fill="#74305f"/>
<circle cx="514" cy="236.1" r="1.75" fill="#74305f"/>
<circle cx="517.6" cy="241.3" r="1.75" fill="#74305f"/>
<circle cx="522.3" cy="242.5" r="1.75" fill="#74305f"/>
<circle cx="513.4" cy="244.5" r="1.75" fill="#74305f"/>
<circle cx="513.9" cy="248.9" r="1.75" fill="#74305f"/>
<circle cx="516" cy="250.5" r="1.75" fill="#74305f"/>
<circle cx="517.7" cy="250.6" r="1.75" fill="#74305f"/>
<circle cx="514.3" cy="255.7" r="1.75" fill="#74305f"/>
<circle cx="519" cy="260.3" r="1.75" fill="#74305f"/>
<circle cx="523.4" cy="258" r="1.75" fill="#74305f"/>
<circle cx="513.7" cy="274.5" r="1.75" fill="#74305f"/>
<circle cx="516.6" cy="279.1" r="1.75" fill="#74305f"/>
<circle cx="513.6" cy="302.8" r="1.75" fill="#74305f"/>
<circle cx="519.3" cy="301.4" r="1.75" fill="#74305f"/>
<text x="575.3" y="202.4" font-size="6.12" fill="#111">Overall: −0.46 (p=6.0e−03)</text>
<text x="574.6" y="211.6" font-size="6.12" fill="#733368">Filtered: −0.39 (p=3.4e−02)</text>
<!--PANELD-->
</svg>
</body></html>
